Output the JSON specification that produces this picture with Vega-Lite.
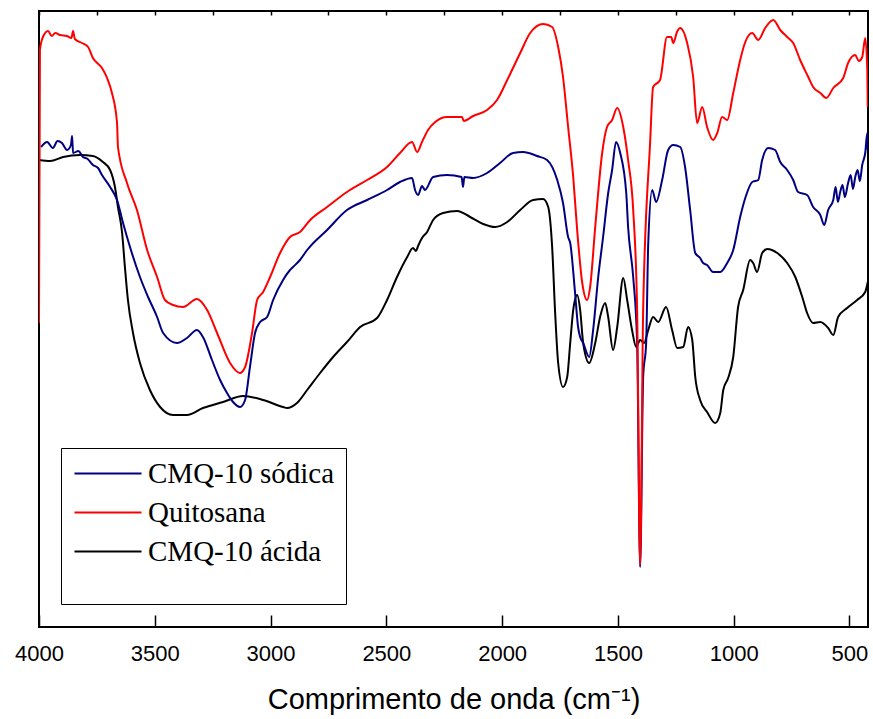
{
  "$schema": "https://vega.github.io/schema/vega-lite/v6.json",
  "width": 829,
  "height": 616,
  "autosize": "none",
  "padding": {"left": 39, "top": 11, "right": 5, "bottom": 92},
  "background": "white",
  "config": {
    "view": {"stroke": "black", "strokeWidth": 2},
    "font": "Liberation Sans"
  },
  "data": {
    "values": [
      {"s":"CMQ-10 ácida","w":3999,"t":467},{"s":"CMQ-10 ácida","w":3952,"t":466},{"s":"CMQ-10 ácida","w":3896,"t":470},{"s":"CMQ-10 ácida","w":3823,"t":472},{"s":"CMQ-10 ácida","w":3767,"t":471},{"s":"CMQ-10 ácida","w":3724,"t":465},{"s":"CMQ-10 ácida","w":3693,"t":457},{"s":"CMQ-10 ácida","w":3672,"t":440},{"s":"CMQ-10 ácida","w":3659,"t":420},{"s":"CMQ-10 ácida","w":3641,"t":394},{"s":"CMQ-10 ácida","w":3629,"t":360},{"s":"CMQ-10 ácida","w":3616,"t":327},{"s":"CMQ-10 ácida","w":3594,"t":294},{"s":"CMQ-10 ácida","w":3564,"t":264},{"s":"CMQ-10 ácida","w":3521,"t":237},{"s":"CMQ-10 ácida","w":3477,"t":220},{"s":"CMQ-10 ácida","w":3421,"t":212},{"s":"CMQ-10 ácida","w":3361,"t":212},{"s":"CMQ-10 ácida","w":3292,"t":219},{"s":"CMQ-10 ácida","w":3205,"t":225},{"s":"CMQ-10 ácida","w":3119,"t":231},{"s":"CMQ-10 ácida","w":3032,"t":227},{"s":"CMQ-10 ácida","w":2946,"t":220},{"s":"CMQ-10 ácida","w":2929,"t":219},{"s":"CMQ-10 ácida","w":2886,"t":224},{"s":"CMQ-10 ácida","w":2842,"t":237},{"s":"CMQ-10 ácida","w":2786,"t":254},{"s":"CMQ-10 ácida","w":2730,"t":270},{"s":"CMQ-10 ácida","w":2670,"t":285},{"s":"CMQ-10 ácida","w":2613,"t":300},{"s":"CMQ-10 ácida","w":2540,"t":309},{"s":"CMQ-10 ácida","w":2497,"t":327},{"s":"CMQ-10 ácida","w":2454,"t":350},{"s":"CMQ-10 ácida","w":2410,"t":370},{"s":"CMQ-10 ácida","w":2385,"t":379},{"s":"CMQ-10 ácida","w":2372,"t":376},{"s":"CMQ-10 ácida","w":2363,"t":381},{"s":"CMQ-10 ácida","w":2346,"t":389},{"s":"CMQ-10 ácida","w":2324,"t":395},{"s":"CMQ-10 ácida","w":2298,"t":407},{"s":"CMQ-10 ácida","w":2255,"t":414},{"s":"CMQ-10 ácida","w":2194,"t":416},{"s":"CMQ-10 ácida","w":2138,"t":410},{"s":"CMQ-10 ácida","w":2082,"t":403},{"s":"CMQ-10 ácida","w":2030,"t":400},{"s":"CMQ-10 ácida","w":1978,"t":405},{"s":"CMQ-10 ácida","w":1922,"t":417},{"s":"CMQ-10 ácida","w":1866,"t":427},{"s":"CMQ-10 ácida","w":1823,"t":428},{"s":"CMQ-10 ácida","w":1801,"t":420},{"s":"CMQ-10 ácida","w":1784,"t":380},{"s":"CMQ-10 ácida","w":1771,"t":314},{"s":"CMQ-10 ácida","w":1758,"t":264},{"s":"CMQ-10 ácida","w":1737,"t":240},{"s":"CMQ-10 ácida","w":1719,"t":250},{"s":"CMQ-10 ácida","w":1706,"t":284},{"s":"CMQ-10 ácida","w":1693,"t":317},{"s":"CMQ-10 ácida","w":1676,"t":332},{"s":"CMQ-10 ácida","w":1663,"t":317},{"s":"CMQ-10 ácida","w":1650,"t":284},{"s":"CMQ-10 ácida","w":1624,"t":264},{"s":"CMQ-10 ácida","w":1598,"t":284},{"s":"CMQ-10 ácida","w":1577,"t":310},{"s":"CMQ-10 ácida","w":1555,"t":324},{"s":"CMQ-10 ácida","w":1542,"t":310},{"s":"CMQ-10 ácida","w":1521,"t":277},{"s":"CMQ-10 ácida","w":1503,"t":300},{"s":"CMQ-10 ácida","w":1477,"t":349},{"s":"CMQ-10 ácida","w":1460,"t":327},{"s":"CMQ-10 ácida","w":1439,"t":297},{"s":"CMQ-10 ácida","w":1421,"t":280},{"s":"CMQ-10 ácida","w":1404,"t":287},{"s":"CMQ-10 ácida","w":1387,"t":284},{"s":"CMQ-10 ácida","w":1369,"t":297},{"s":"CMQ-10 ácida","w":1348,"t":310},{"s":"CMQ-10 ácida","w":1326,"t":305},{"s":"CMQ-10 ácida","w":1292,"t":320},{"s":"CMQ-10 ácida","w":1266,"t":297},{"s":"CMQ-10 ácida","w":1244,"t":279},{"s":"CMQ-10 ácida","w":1218,"t":280},{"s":"CMQ-10 ácida","w":1197,"t":300},{"s":"CMQ-10 ácida","w":1179,"t":287},{"s":"CMQ-10 ácida","w":1166,"t":250},{"s":"CMQ-10 ácida","w":1145,"t":227},{"s":"CMQ-10 ácida","w":1115,"t":215},{"s":"CMQ-10 ácida","w":1080,"t":204},{"s":"CMQ-10 ácida","w":1058,"t":214},{"s":"CMQ-10 ácida","w":1045,"t":237},{"s":"CMQ-10 ácida","w":1024,"t":249},{"s":"CMQ-10 ácida","w":1002,"t":270},{"s":"CMQ-10 ácida","w":981,"t":320},{"s":"CMQ-10 ácida","w":959,"t":337},{"s":"CMQ-10 ácida","w":929,"t":367},{"s":"CMQ-10 ácida","w":916,"t":364},{"s":"CMQ-10 ácida","w":899,"t":355},{"s":"CMQ-10 ácida","w":877,"t":374},{"s":"CMQ-10 ácida","w":855,"t":378},{"s":"CMQ-10 ácida","w":812,"t":374},{"s":"CMQ-10 ácida","w":769,"t":364},{"s":"CMQ-10 ácida","w":734,"t":350},{"s":"CMQ-10 ácida","w":704,"t":330},{"s":"CMQ-10 ácida","w":683,"t":314},{"s":"CMQ-10 ácida","w":657,"t":304},{"s":"CMQ-10 ácida","w":626,"t":305},{"s":"CMQ-10 ácida","w":592,"t":299},{"s":"CMQ-10 ácida","w":570,"t":292},{"s":"CMQ-10 ácida","w":549,"t":310},{"s":"CMQ-10 ácida","w":510,"t":319},{"s":"CMQ-10 ácida","w":467,"t":327},{"s":"CMQ-10 ácida","w":432,"t":335},{"s":"CMQ-10 ácida","w":421,"t":345},

      {"s":"CMQ-10 sódica","w":3991,"t":480},{"s":"CMQ-10 sódica","w":3965,"t":485},{"s":"CMQ-10 sódica","w":3940,"t":479},{"s":"CMQ-10 sódica","w":3920,"t":486},{"s":"CMQ-10 sódica","w":3901,"t":484},{"s":"CMQ-10 sódica","w":3879,"t":477},{"s":"CMQ-10 sódica","w":3862,"t":482},{"s":"CMQ-10 sódica","w":3857,"t":491},{"s":"CMQ-10 sódica","w":3853,"t":474},{"s":"CMQ-10 sódica","w":3830,"t":476},{"s":"CMQ-10 sódica","w":3810,"t":470},{"s":"CMQ-10 sódica","w":3790,"t":468},{"s":"CMQ-10 sódica","w":3767,"t":462},{"s":"CMQ-10 sódica","w":3745,"t":459},{"s":"CMQ-10 sódica","w":3728,"t":452},{"s":"CMQ-10 sódica","w":3693,"t":440},{"s":"CMQ-10 sódica","w":3663,"t":427},{"s":"CMQ-10 sódica","w":3637,"t":404},{"s":"CMQ-10 sódica","w":3607,"t":380},{"s":"CMQ-10 sódica","w":3564,"t":350},{"s":"CMQ-10 sódica","w":3529,"t":330},{"s":"CMQ-10 sódica","w":3490,"t":310},{"s":"CMQ-10 sódica","w":3464,"t":294},{"s":"CMQ-10 sódica","w":3404,"t":284},{"s":"CMQ-10 sódica","w":3361,"t":289},{"s":"CMQ-10 sódica","w":3318,"t":297},{"s":"CMQ-10 sódica","w":3292,"t":290},{"s":"CMQ-10 sódica","w":3253,"t":267},{"s":"CMQ-10 sódica","w":3218,"t":247},{"s":"CMQ-10 sódica","w":3188,"t":234},{"s":"CMQ-10 sódica","w":3162,"t":225},{"s":"CMQ-10 sódica","w":3132,"t":220},{"s":"CMQ-10 sódica","w":3110,"t":227},{"s":"CMQ-10 sódica","w":3089,"t":260},{"s":"CMQ-10 sódica","w":3067,"t":294},{"s":"CMQ-10 sódica","w":3045,"t":305},{"s":"CMQ-10 sódica","w":3015,"t":310},{"s":"CMQ-10 sódica","w":2989,"t":327},{"s":"CMQ-10 sódica","w":2946,"t":347},{"s":"CMQ-10 sódica","w":2916,"t":357},{"s":"CMQ-10 sódica","w":2903,"t":360},{"s":"CMQ-10 sódica","w":2873,"t":367},{"s":"CMQ-10 sódica","w":2842,"t":377},{"s":"CMQ-10 sódica","w":2756,"t":397},{"s":"CMQ-10 sódica","w":2670,"t":417},{"s":"CMQ-10 sódica","w":2583,"t":427},{"s":"CMQ-10 sódica","w":2497,"t":437},{"s":"CMQ-10 sódica","w":2441,"t":445},{"s":"CMQ-10 sódica","w":2389,"t":449},{"s":"CMQ-10 sódica","w":2376,"t":437},{"s":"CMQ-10 sódica","w":2363,"t":432},{"s":"CMQ-10 sódica","w":2346,"t":441},{"s":"CMQ-10 sódica","w":2333,"t":437},{"s":"CMQ-10 sódica","w":2298,"t":450},{"s":"CMQ-10 sódica","w":2238,"t":452},{"s":"CMQ-10 sódica","w":2175,"t":450},{"s":"CMQ-10 sódica","w":2169,"t":440},{"s":"CMQ-10 sódica","w":2163,"t":450},{"s":"CMQ-10 sódica","w":2125,"t":449},{"s":"CMQ-10 sódica","w":2065,"t":454},{"s":"CMQ-10 sódica","w":2009,"t":464},{"s":"CMQ-10 sódica","w":1953,"t":474},{"s":"CMQ-10 sódica","w":1909,"t":475},{"s":"CMQ-10 sódica","w":1849,"t":471},{"s":"CMQ-10 sódica","w":1806,"t":467},{"s":"CMQ-10 sódica","w":1762,"t":447},{"s":"CMQ-10 sódica","w":1737,"t":424},{"s":"CMQ-10 sódica","w":1715,"t":390},{"s":"CMQ-10 sódica","w":1706,"t":384},{"s":"CMQ-10 sódica","w":1685,"t":334},{"s":"CMQ-10 sódica","w":1672,"t":300},{"s":"CMQ-10 sódica","w":1663,"t":290},{"s":"CMQ-10 sódica","w":1650,"t":284},{"s":"CMQ-10 sódica","w":1624,"t":270},{"s":"CMQ-10 sódica","w":1607,"t":297},{"s":"CMQ-10 sódica","w":1585,"t":350},{"s":"CMQ-10 sódica","w":1564,"t":390},{"s":"CMQ-10 sódica","w":1542,"t":434},{"s":"CMQ-10 sódica","w":1525,"t":457},{"s":"CMQ-10 sódica","w":1508,"t":485},{"s":"CMQ-10 sódica","w":1490,"t":474},{"s":"CMQ-10 sódica","w":1464,"t":434},{"s":"CMQ-10 sódica","w":1456,"t":400},{"s":"CMQ-10 sódica","w":1434,"t":350},{"s":"CMQ-10 sódica","w":1417,"t":284},{"s":"CMQ-10 sódica","w":1404,"t":60},{"s":"CMQ-10 sódica","w":1391,"t":250},{"s":"CMQ-10 sódica","w":1378,"t":284},{"s":"CMQ-10 sódica","w":1369,"t":384},{"s":"CMQ-10 sódica","w":1352,"t":437},{"s":"CMQ-10 sódica","w":1335,"t":425},{"s":"CMQ-10 sódica","w":1309,"t":447},{"s":"CMQ-10 sódica","w":1283,"t":477},{"s":"CMQ-10 sódica","w":1261,"t":482},{"s":"CMQ-10 sódica","w":1231,"t":480},{"s":"CMQ-10 sódica","w":1210,"t":460},{"s":"CMQ-10 sódica","w":1188,"t":417},{"s":"CMQ-10 sódica","w":1166,"t":374},{"s":"CMQ-10 sódica","w":1145,"t":369},{"s":"CMQ-10 sódica","w":1132,"t":364},{"s":"CMQ-10 sódica","w":1115,"t":362},{"s":"CMQ-10 sódica","w":1089,"t":355},{"s":"CMQ-10 sódica","w":1058,"t":355},{"s":"CMQ-10 sódica","w":1028,"t":364},{"s":"CMQ-10 sódica","w":1002,"t":377},{"s":"CMQ-10 sódica","w":972,"t":410},{"s":"CMQ-10 sódica","w":950,"t":429},{"s":"CMQ-10 sódica","w":920,"t":445},{"s":"CMQ-10 sódica","w":894,"t":447},{"s":"CMQ-10 sódica","w":877,"t":467},{"s":"CMQ-10 sódica","w":851,"t":479},{"s":"CMQ-10 sódica","w":821,"t":477},{"s":"CMQ-10 sódica","w":799,"t":465},{"s":"CMQ-10 sódica","w":769,"t":457},{"s":"CMQ-10 sódica","w":743,"t":447},{"s":"CMQ-10 sódica","w":722,"t":435},{"s":"CMQ-10 sódica","w":683,"t":432},{"s":"CMQ-10 sódica","w":657,"t":420},{"s":"CMQ-10 sódica","w":626,"t":412},{"s":"CMQ-10 sódica","w":609,"t":402},{"s":"CMQ-10 sódica","w":592,"t":417},{"s":"CMQ-10 sódica","w":570,"t":427},{"s":"CMQ-10 sódica","w":560,"t":440},{"s":"CMQ-10 sódica","w":550,"t":425},{"s":"CMQ-10 sódica","w":540,"t":435},{"s":"CMQ-10 sódica","w":530,"t":442},{"s":"CMQ-10 sódica","w":520,"t":430},{"s":"CMQ-10 sódica","w":506,"t":444},{"s":"CMQ-10 sódica","w":495,"t":452},{"s":"CMQ-10 sódica","w":485,"t":438},{"s":"CMQ-10 sódica","w":475,"t":450},{"s":"CMQ-10 sódica","w":465,"t":457},{"s":"CMQ-10 sódica","w":455,"t":446},{"s":"CMQ-10 sódica","w":445,"t":462},{"s":"CMQ-10 sódica","w":432,"t":474},{"s":"CMQ-10 sódica","w":423,"t":494},{"s":"CMQ-10 sódica","w":421,"t":477},

      {"s":"Quitosana","w":4000,"t":304},{"s":"Quitosana","w":3996,"t":577},{"s":"Quitosana","w":3983,"t":590},{"s":"Quitosana","w":3961,"t":596},{"s":"Quitosana","w":3945,"t":591},{"s":"Quitosana","w":3930,"t":594},{"s":"Quitosana","w":3909,"t":592},{"s":"Quitosana","w":3880,"t":591},{"s":"Quitosana","w":3860,"t":589},{"s":"Quitosana","w":3853,"t":596},{"s":"Quitosana","w":3845,"t":588},{"s":"Quitosana","w":3814,"t":584},{"s":"Quitosana","w":3788,"t":580},{"s":"Quitosana","w":3767,"t":569},{"s":"Quitosana","w":3728,"t":559},{"s":"Quitosana","w":3706,"t":549},{"s":"Quitosana","w":3685,"t":534},{"s":"Quitosana","w":3663,"t":504},{"s":"Quitosana","w":3659,"t":480},{"s":"Quitosana","w":3620,"t":444},{"s":"Quitosana","w":3577,"t":417},{"s":"Quitosana","w":3533,"t":377},{"s":"Quitosana","w":3490,"t":350},{"s":"Quitosana","w":3456,"t":327},{"s":"Quitosana","w":3421,"t":322},{"s":"Quitosana","w":3378,"t":320},{"s":"Quitosana","w":3318,"t":328},{"s":"Quitosana","w":3274,"t":317},{"s":"Quitosana","w":3231,"t":294},{"s":"Quitosana","w":3175,"t":264},{"s":"Quitosana","w":3132,"t":254},{"s":"Quitosana","w":3110,"t":260},{"s":"Quitosana","w":3080,"t":294},{"s":"Quitosana","w":3058,"t":327},{"s":"Quitosana","w":3032,"t":335},{"s":"Quitosana","w":3002,"t":350},{"s":"Quitosana","w":2959,"t":374},{"s":"Quitosana","w":2916,"t":390},{"s":"Quitosana","w":2873,"t":395},{"s":"Quitosana","w":2829,"t":407},{"s":"Quitosana","w":2756,"t":420},{"s":"Quitosana","w":2670,"t":435},{"s":"Quitosana","w":2583,"t":447},{"s":"Quitosana","w":2497,"t":460},{"s":"Quitosana","w":2441,"t":474},{"s":"Quitosana","w":2389,"t":485},{"s":"Quitosana","w":2367,"t":475},{"s":"Quitosana","w":2346,"t":485},{"s":"Quitosana","w":2320,"t":497},{"s":"Quitosana","w":2289,"t":505},{"s":"Quitosana","w":2238,"t":510},{"s":"Quitosana","w":2173,"t":510},{"s":"Quitosana","w":2166,"t":506},{"s":"Quitosana","w":2125,"t":511},{"s":"Quitosana","w":2065,"t":517},{"s":"Quitosana","w":2022,"t":527},{"s":"Quitosana","w":1978,"t":547},{"s":"Quitosana","w":1922,"t":574},{"s":"Quitosana","w":1879,"t":594},{"s":"Quitosana","w":1823,"t":603},{"s":"Quitosana","w":1784,"t":600},{"s":"Quitosana","w":1758,"t":580},{"s":"Quitosana","w":1737,"t":550},{"s":"Quitosana","w":1715,"t":500},{"s":"Quitosana","w":1693,"t":450},{"s":"Quitosana","w":1676,"t":397},{"s":"Quitosana","w":1654,"t":344},{"s":"Quitosana","w":1633,"t":327},{"s":"Quitosana","w":1620,"t":340},{"s":"Quitosana","w":1598,"t":400},{"s":"Quitosana","w":1568,"t":474},{"s":"Quitosana","w":1547,"t":500},{"s":"Quitosana","w":1525,"t":507},{"s":"Quitosana","w":1503,"t":519},{"s":"Quitosana","w":1477,"t":500},{"s":"Quitosana","w":1456,"t":467},{"s":"Quitosana","w":1434,"t":417},{"s":"Quitosana","w":1417,"t":317},{"s":"Quitosana","w":1404,"t":62},{"s":"Quitosana","w":1391,"t":317},{"s":"Quitosana","w":1361,"t":484},{"s":"Quitosana","w":1348,"t":540},{"s":"Quitosana","w":1318,"t":547},{"s":"Quitosana","w":1288,"t":590},{"s":"Quitosana","w":1270,"t":590},{"s":"Quitosana","w":1261,"t":584},{"s":"Quitosana","w":1245,"t":595},{"s":"Quitosana","w":1231,"t":599},{"s":"Quitosana","w":1201,"t":584},{"s":"Quitosana","w":1175,"t":550},{"s":"Quitosana","w":1158,"t":504},{"s":"Quitosana","w":1136,"t":520},{"s":"Quitosana","w":1115,"t":500},{"s":"Quitosana","w":1089,"t":487},{"s":"Quitosana","w":1071,"t":494},{"s":"Quitosana","w":1050,"t":510},{"s":"Quitosana","w":1028,"t":507},{"s":"Quitosana","w":1002,"t":534},{"s":"Quitosana","w":972,"t":567},{"s":"Quitosana","w":950,"t":585},{"s":"Quitosana","w":920,"t":594},{"s":"Quitosana","w":894,"t":587},{"s":"Quitosana","w":864,"t":599},{"s":"Quitosana","w":829,"t":607},{"s":"Quitosana","w":799,"t":597},{"s":"Quitosana","w":769,"t":590},{"s":"Quitosana","w":743,"t":584},{"s":"Quitosana","w":713,"t":567},{"s":"Quitosana","w":678,"t":550},{"s":"Quitosana","w":657,"t":540},{"s":"Quitosana","w":626,"t":534},{"s":"Quitosana","w":600,"t":529},{"s":"Quitosana","w":570,"t":539},{"s":"Quitosana","w":527,"t":549},{"s":"Quitosana","w":506,"t":564},{"s":"Quitosana","w":475,"t":572},{"s":"Quitosana","w":460,"t":566},{"s":"Quitosana","w":445,"t":570},{"s":"Quitosana","w":432,"t":589},{"s":"Quitosana","w":423,"t":557},{"s":"Quitosana","w":421,"t":520}
    ]
  },
  "encoding": {
    "y": {
      "field": "t",
      "type": "quantitative",
      "scale": {"domain": [0, 616], "nice": false, "zero": false},
      "axis": null
    },
    "color": {
      "field": "s",
      "type": "nominal",
      "scale": {"domain": ["CMQ-10 sódica", "Quitosana", "CMQ-10 ácida"], "range": ["#000080", "#FF0000", "#000000"]},
      "legend": {
        "orient": "none",
        "legendX": 22,
        "legendY": 437,
        "title": " ",
        "titleOrient": "bottom",
        "titleFontSize": 16,
        "titlePadding": 10,
        "strokeColor": "black",
        "fillColor": "white",
        "padding": 11,
        "labelFont": "Liberation Serif",
        "labelFontSize": 29,
        "labelColor": "black",
        "labelLimit": 400,
        "symbolType": "M-1.2,0H5.5",
        "symbolSize": 400,
        "symbolStrokeWidth": 2,
        "labelOffset": 47,
        "rowPadding": 9
      }
    }
  },
  "layer": [
    {
      "transform": [{"filter": "datum.s !== 'Quitosana'"}],
      "mark": {"type": "line", "strokeWidth": 2, "clip": true, "interpolate": "monotone"},
      "encoding": {
        "x": {
          "field": "w",
          "type": "quantitative",
          "scale": {"domain": [420, 4000], "reverse": true, "nice": false, "zero": false},
          "axis": {
            "orient": "bottom",
            "offset": -12,
            "domain": false,
            "values": [500, 1000, 1500, 2000, 2500, 3000, 3500, 4000],
            "format": "d",
            "labelFlush": false,
            "labelOverlap": false,
            "labelFont": "Liberation Sans",
            "labelFontSize": 22,
            "labelColor": "black",
            "labelPadding": 16,
            "ticks": true,
            "tickSize": 12,
            "tickColor": "black",
            "tickWidth": 1.5,
            "grid": false,
            "title": "Comprimento de onda (cm⁻¹)",
            "titleFont": "Liberation Sans",
            "titleFontSize": 29,
            "titleFontWeight": "normal",
            "titleColor": "black",
            "titlePadding": 21
          }
        }
      }
    },
    {
      "transform": [{"filter": "datum.s === 'Quitosana'"}],
      "mark": {"type": "line", "strokeWidth": 2, "clip": true, "interpolate": "monotone"},
      "encoding": {
        "x": {
          "field": "w",
          "type": "quantitative",
          "axis": {
            "orient": "top",
            "offset": -4,
            "domain": false,
            "values": [500, 750, 1000, 1250, 1500, 1750, 2000, 2250, 2500, 2750, 3000, 3250, 3500, 3750, 4000],
            "labels": false,
            "ticks": true,
            "tickSize": 4,
            "tickColor": "black",
            "tickWidth": 1.5,
            "grid": false,
            "title": null
          }
        }
      }
    }
  ]
}
